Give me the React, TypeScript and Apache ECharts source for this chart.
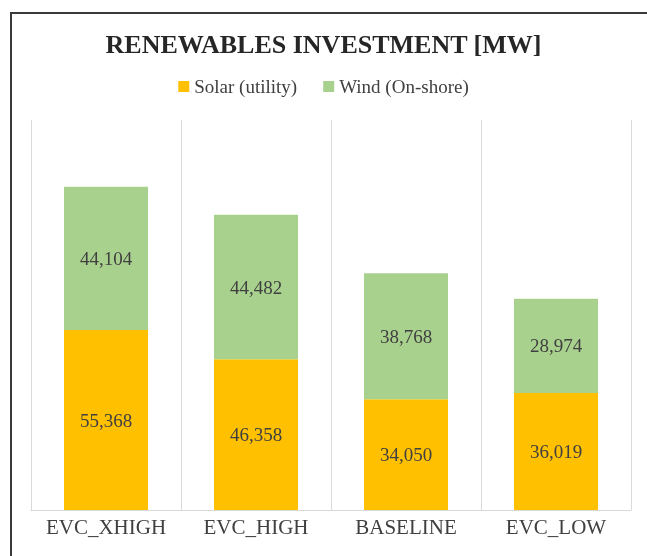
import React, { useEffect, useRef } from "react";
import * as echarts from "echarts";

const categories = ["EVC_XHIGH", "EVC_HIGH", "BASELINE", "EVC_LOW"];
const solarValues = [55368, 46358, 34050, 36019];
const windValues = [44104, 44482, 38768, 28974];
const seriesNames = ["Solar (utility)", "Wind (On-shore)"];
const titleText = "RENEWABLES INVESTMENT [MW]";

export default function App() {
  const ref = useRef<HTMLDivElement>(null);
  useEffect(() => {
    if (!ref.current) return;
    const chart = echarts.init(ref.current, null, { renderer: "svg" });
    const fmt = (p: any) => Number(p.value).toLocaleString("en-US");
    chart.setOption({
      animation: false,
      title: {
        text: titleText,
        left: "center",
        top: 26,
        textStyle: { fontFamily: "Liberation Serif", fontSize: 26, fontWeight: "bold", color: "#262626" },
      },
      legend: {
        top: 72,
        left: "center",
        icon: "rect",
        itemWidth: 11,
        itemHeight: 11,
        itemGap: 26,
        textStyle: { fontFamily: "Liberation Serif", fontSize: 19, color: "#404040" },
        data: seriesNames,
      },
      grid: { left: 31, right: 16, top: 120, bottom: 46 },
      xAxis: {
        type: "category",
        data: categories,
        axisTick: { show: false },
        axisLine: { lineStyle: { color: "#d9d9d9", width: 1 } },
        splitLine: { show: true, interval: 0, lineStyle: { color: "#d9d9d9", width: 1 } },
        axisLabel: { interval: 0, fontFamily: "Liberation Serif", fontSize: 21, color: "#404040", margin: 6 },
      },
      yAxis: {
        type: "value",
        min: 0,
        max: 120000,
        show: false,
        splitLine: { show: false },
      },
      series: [
        {
          name: seriesNames[0],
          type: "bar",
          stack: "total",
          data: solarValues,
          barWidth: "56%",
          itemStyle: { color: "#FFC000" },
          label: { show: true, position: "inside", formatter: fmt, fontFamily: "Liberation Serif", fontSize: 19, color: "#404040" },
        },
        {
          name: seriesNames[1],
          type: "bar",
          stack: "total",
          data: windValues,
          barWidth: "56%",
          itemStyle: { color: "#A9D18E" },
          label: { show: true, position: "inside", formatter: fmt, fontFamily: "Liberation Serif", fontSize: 19, color: "#404040" },
        },
      ],
      graphic: [
        {
          type: "rect",
          shape: { x: 11, y: 13, width: 800, height: 700 },
          style: { fill: "none", stroke: "#3a3a3a", lineWidth: 2 },
          silent: true,
          z: 100,
        },
      ],
    });
    return () => chart.dispose();
  }, []);
  return (
    <div>
      <div ref={ref} style={{ position: "fixed", left: 0, top: 0, width: 647, height: 556 }} />
    </div>
  );
}
